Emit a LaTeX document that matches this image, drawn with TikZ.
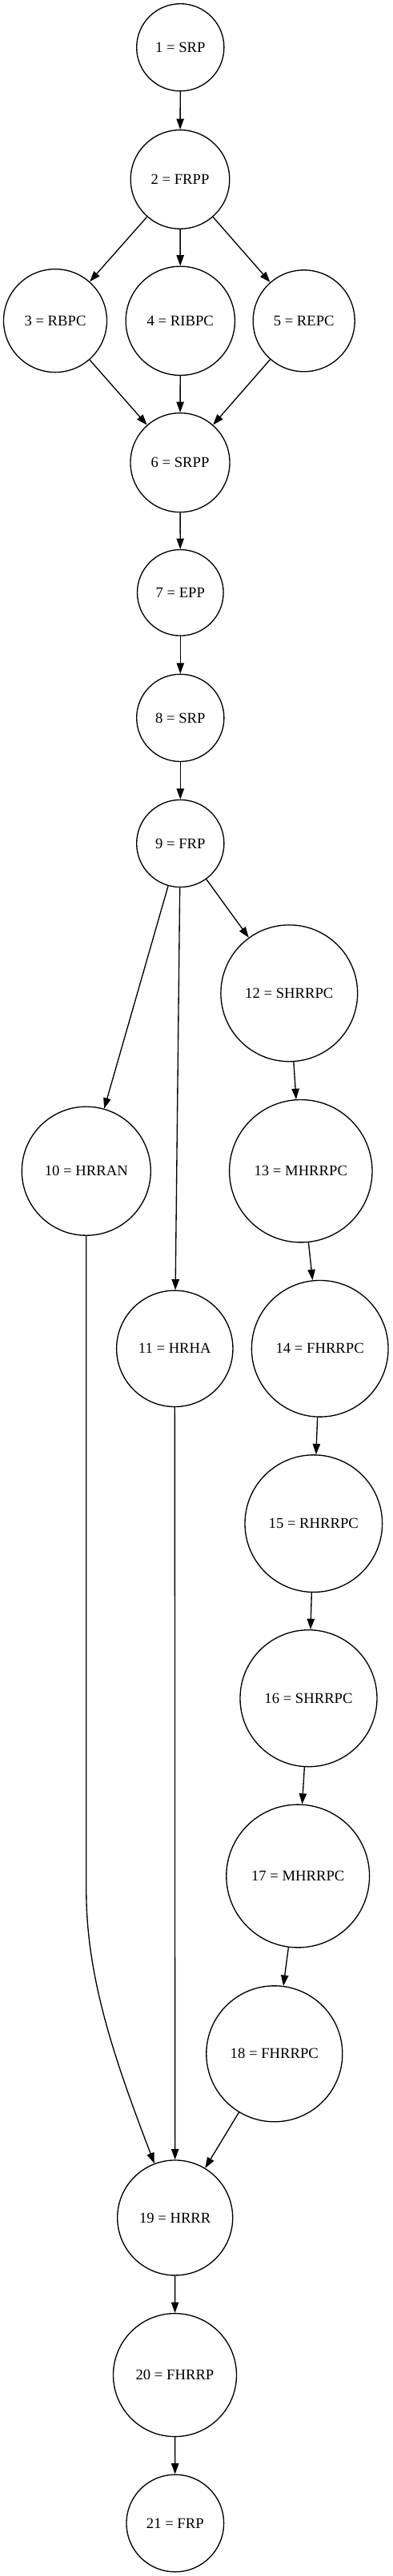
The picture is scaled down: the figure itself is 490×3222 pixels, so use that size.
\documentclass[tikz,border=0pt]{standalone}
\usepackage{fontspec}
\setmainfont{Liberation Serif}
\usepackage{tikz}
\usetikzlibrary{positioning}
\usetikzlibrary{shapes,arrows.meta}

\tikzset{
  st/.style={circle, draw, line width=1pt, inner sep=0pt, minimum size=#1},
  tr/.style={line width=1pt, ->},
}

\begin{document}
\begin{tikzpicture}[x=0.75pt, y=-0.75pt, >={Triangle[length=10pt,width=7pt]},
  font=\fontsize{14}{16}\selectfont]

% page frame
\useasboundingbox (0,0) rectangle (490,3222);

% top part
\node[st=81.9pt] (n1) at (225.3, 59.3) {1 = SRP};
\node[st=92.7pt] (n2) at (225, 224.4) {2 = FRPP};
\node[st=96.75pt] (n3) at (69, 401.1) {3 = RBPC};
\node[st=102.2pt] (n4) at (225.3, 401.3) {4 = RIBPC};
\node[st=95.25pt] (n5) at (379.7, 401.3) {5 = REPC};
\node[st=93pt] (n6) at (225, 578.6) {6 = SRPP};
\node[st=80.7pt] (n7) at (225.3, 741.3) {7 = EPP};
\node[st=81.9pt] (n8) at (225.3, 897.9) {8 = SRP};
\node[st=81.9pt] (n9) at (225.3, 1055) {9 = FRP};

% left branches
\node[st=120.75pt] (n10) at (107.8, 1464.7) {10 = HRRAN};
\node[st=109pt] (n11) at (218.3, 1686.8) {11 = HRHA};

% right branch
\node[st=128.1pt] (n12) at (361.3, 1242.3) {12 = SHRRPC};
\node[st=133.8pt] (n13) at (375.8, 1464.7) {13 = MHRRPC};
\node[st=128pt] (n14) at (399.7, 1686.8) {14 = FHRRPC};
\node[st=128.7pt] (n15) at (391.8, 1905.6) {15 = RHRRPC};
\node[st=128.25pt] (n16) at (385.5, 2124.2) {16 = SHRRPC};
\node[st=134.1pt] (n17) at (372.2, 2346.5) {17 = MHRRPC};
\node[st=127.5pt] (n18) at (342.8, 2568.8) {18 = FHRRPC};

% bottom part
\node[st=108pt] (n19) at (218.7, 2773.9) {19 = HRRR};
\node[st=115.5pt] (n20) at (218.5, 2970.6) {20 = FHRRP};
\node[st=91.2pt] (n21) at (218.8, 3156) {21 = FRP};

% edges
\draw[tr] (n1) -- (n2);
\draw[tr] (n2) -- (n3);
\draw[tr] (n2) -- (n4);
\draw[tr] (n2) -- (n5);
\draw[tr] (n3) -- (n6);
\draw[tr] (n4) -- (n6);
\draw[tr] (n5) -- (n6);
\draw[tr] (n6) -- (n7);
\draw[tr] (n7) -- (n8);
\draw[tr] (n8) -- (n9);
\draw[tr] (n9) -- (n10);
\draw[tr] (n9) -- (n11);
\draw[tr] (n9) -- (n12);
\draw[tr] (n12) -- (n13);
\draw[tr] (n13) -- (n14);
\draw[tr] (n14) -- (n15);
\draw[tr] (n15) -- (n16);
\draw[tr] (n16) -- (n17);
\draw[tr] (n17) -- (n18);

% long way down from 10
\coordinate (k10) at (107.8, 2365);
\draw[tr] (n10) -- (k10) .. controls (107.8, 2475) and (144.4, 2579) .. (n19);
\draw[tr] (n11) -- (n19);
\draw[tr] (n18) -- (n19);
\draw[tr] (n19) -- (n20);
\draw[tr] (n20) -- (n21);

\end{tikzpicture}
\end{document}
